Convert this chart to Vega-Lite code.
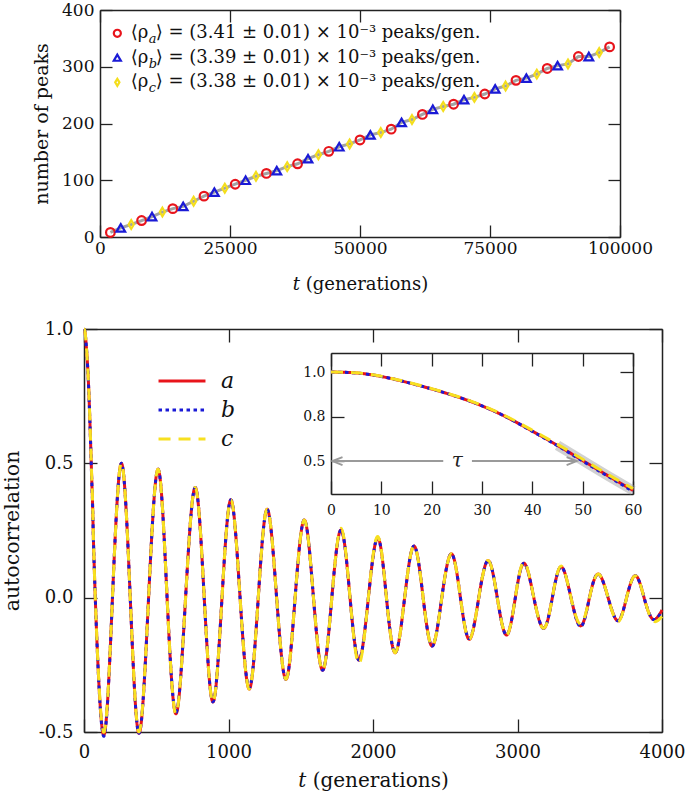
{
  "$schema": "https://vega.github.io/schema/vega-lite/v6.json",
  "width": 685,
  "height": 797,
  "autosize": "none",
  "padding": 0,
  "background": "white",
  "config": {
    "font": "DejaVu Serif",
    "view": {"stroke": null},
    "axis": {"grid": false, "domainColor": "#222", "tickColor": "#222", "labelColor": "#111", "titleColor": "#111", "titleFontWeight": "normal", "domainWidth": 1.5, "tickWidth": 1.3, "labelFlush": false, "labelOverlap": false, "labelFont": "DejaVu Serif", "titleFont": "DejaVu Serif"},
    "legend": {"labelFont": "DejaVu Serif"},
    "text": {"font": "DejaVu Serif"}
  },
  "datasets": {
    "peaks": [
      {"series":"a","t":2000,"n":8},{"series":"a","t":8000,"n":29},{"series":"a","t":14000,"n":50},{"series":"a","t":20000,"n":72},{"series":"a","t":26000,"n":93},{"series":"a","t":32000,"n":112},{"series":"a","t":38000,"n":129},{"series":"a","t":44000,"n":151},{"series":"a","t":50000,"n":171},{"series":"a","t":56000,"n":190},{"series":"a","t":62000,"n":216},{"series":"a","t":68000,"n":234},{"series":"a","t":74000,"n":252},{"series":"a","t":80000,"n":276},{"series":"a","t":86000,"n":297},{"series":"a","t":92000,"n":318},{"series":"a","t":98000,"n":335},
      {"series":"b","t":4000,"n":16},{"series":"b","t":10000,"n":36},{"series":"b","t":16000,"n":54},{"series":"b","t":22000,"n":79},{"series":"b","t":28000,"n":100},{"series":"b","t":34000,"n":117},{"series":"b","t":40000,"n":138},{"series":"b","t":46000,"n":159},{"series":"b","t":52000,"n":180},{"series":"b","t":58000,"n":202},{"series":"b","t":64000,"n":225},{"series":"b","t":70000,"n":242},{"series":"b","t":76000,"n":261},{"series":"b","t":82000,"n":280},{"series":"b","t":88000,"n":302},{"series":"b","t":94000,"n":318},
      {"series":"c","t":6000,"n":22},{"series":"c","t":12000,"n":44},{"series":"c","t":18000,"n":63},{"series":"c","t":24000,"n":86},{"series":"c","t":30000,"n":107},{"series":"c","t":36000,"n":124},{"series":"c","t":42000,"n":145},{"series":"c","t":48000,"n":164},{"series":"c","t":54000,"n":184},{"series":"c","t":60000,"n":207},{"series":"c","t":66000,"n":230},{"series":"c","t":72000,"n":246},{"series":"c","t":78000,"n":266},{"series":"c","t":84000,"n":287},{"series":"c","t":90000,"n":305},{"series":"c","t":96000,"n":325}
    ],
    "acf": [
      {"series":"a","t":0,"v":1.0},{"series":"a","t":5,"v":0.995},{"series":"a","t":10,"v":0.975},{"series":"a","t":15,"v":0.943},{"series":"a","t":20,"v":0.905},{"series":"a","t":25,"v":0.862},{"series":"a","t":30,"v":0.81},{"series":"a","t":35,"v":0.745},{"series":"a","t":40,"v":0.668},{"series":"a","t":45,"v":0.588},{"series":"a","t":50,"v":0.503},{"series":"a","t":55,"v":0.418},{"series":"a","t":60,"v":0.335},
      {"series":"a","t":78,"v":0},{"series":"a","t":135,"v":-0.51},{"series":"a","t":197,"v":0},{"series":"a","t":259,"v":0.5},{"series":"a","t":320,"v":0},{"series":"a","t":381,"v":-0.505},{"series":"a","t":447,"v":0},{"series":"a","t":513,"v":0.478},{"series":"a","t":575,"v":0},{"series":"a","t":637,"v":-0.432},{"series":"a","t":703,"v":0},{"series":"a","t":770,"v":0.41},{"series":"a","t":832,"v":0},{"series":"a","t":893,"v":-0.388},{"series":"a","t":955,"v":0},{"series":"a","t":1017,"v":0.364},{"series":"a","t":1080,"v":0},{"series":"a","t":1144,"v":-0.34},{"series":"a","t":1206,"v":0},{"series":"a","t":1268,"v":0.329},{"series":"a","t":1333,"v":0},{"series":"a","t":1398,"v":-0.304},{"series":"a","t":1461,"v":0},{"series":"a","t":1525,"v":0.289},{"series":"a","t":1588,"v":0},{"series":"a","t":1652,"v":-0.27},{"series":"a","t":1715,"v":0},{"series":"a","t":1779,"v":0.252},{"series":"a","t":1841,"v":0},{"series":"a","t":1903,"v":-0.232},{"series":"a","t":1968,"v":0},{"series":"a","t":2033,"v":0.223},{"series":"a","t":2093,"v":0},{"series":"a","t":2154,"v":-0.205},{"series":"a","t":2219,"v":0},{"series":"a","t":2284,"v":0.192},{"series":"a","t":2347,"v":0},{"series":"a","t":2410,"v":-0.18},{"series":"a","t":2476,"v":0},{"series":"a","t":2543,"v":0.163},{"series":"a","t":2605,"v":0},{"series":"a","t":2667,"v":-0.155},{"series":"a","t":2732,"v":0},{"series":"a","t":2797,"v":0.138},{"series":"a","t":2860,"v":0},{"series":"a","t":2924,"v":-0.139},{"series":"a","t":2985,"v":0},{"series":"a","t":3045,"v":0.128},{"series":"a","t":3113,"v":0},{"series":"a","t":3181,"v":-0.114},{"series":"a","t":3241,"v":0},{"series":"a","t":3302,"v":0.115},{"series":"a","t":3370,"v":0},{"series":"a","t":3438,"v":-0.105},{"series":"a","t":3498,"v":0},{"series":"a","t":3559,"v":0.088},{"series":"a","t":3627,"v":0},{"series":"a","t":3695,"v":-0.086},{"series":"a","t":3755,"v":0},{"series":"a","t":3816,"v":0.082},{"series":"a","t":3876,"v":0},{"series":"a","t":3936,"v":-0.08},{"series":"a","t":4000,"v":-0.046},
      {"series":"b","t":0,"v":1.0},{"series":"b","t":5,"v":0.995},{"series":"b","t":10,"v":0.975},{"series":"b","t":15,"v":0.943},{"series":"b","t":20,"v":0.905},{"series":"b","t":25,"v":0.862},{"series":"b","t":30,"v":0.81},{"series":"b","t":35,"v":0.745},{"series":"b","t":40,"v":0.667},{"series":"b","t":45,"v":0.586},{"series":"b","t":50,"v":0.5},{"series":"b","t":55,"v":0.415},{"series":"b","t":60,"v":0.33},
      {"series":"b","t":78,"v":0},{"series":"b","t":135,"v":-0.515},{"series":"b","t":197,"v":0},{"series":"b","t":259,"v":0.5},{"series":"b","t":320,"v":0},{"series":"b","t":381,"v":-0.505},{"series":"b","t":447,"v":0},{"series":"b","t":513,"v":0.478},{"series":"b","t":575,"v":0},{"series":"b","t":637,"v":-0.428},{"series":"b","t":703,"v":0},{"series":"b","t":770,"v":0.41},{"series":"b","t":832,"v":0},{"series":"b","t":893,"v":-0.388},{"series":"b","t":955,"v":0},{"series":"b","t":1017,"v":0.364},{"series":"b","t":1080,"v":0},{"series":"b","t":1144,"v":-0.335},{"series":"b","t":1206,"v":0},{"series":"b","t":1268,"v":0.329},{"series":"b","t":1333,"v":0},{"series":"b","t":1398,"v":-0.304},{"series":"b","t":1461,"v":0},{"series":"b","t":1525,"v":0.289},{"series":"b","t":1588,"v":0},{"series":"b","t":1652,"v":-0.27},{"series":"b","t":1715,"v":0},{"series":"b","t":1779,"v":0.252},{"series":"b","t":1841,"v":0},{"series":"b","t":1903,"v":-0.232},{"series":"b","t":1968,"v":0},{"series":"b","t":2033,"v":0.223},{"series":"b","t":2093,"v":0},{"series":"b","t":2154,"v":-0.205},{"series":"b","t":2219,"v":0},{"series":"b","t":2284,"v":0.192},{"series":"b","t":2347,"v":0},{"series":"b","t":2410,"v":-0.18},{"series":"b","t":2476,"v":0},{"series":"b","t":2543,"v":0.163},{"series":"b","t":2605,"v":0},{"series":"b","t":2667,"v":-0.152},{"series":"b","t":2732,"v":0},{"series":"b","t":2797,"v":0.138},{"series":"b","t":2860,"v":0},{"series":"b","t":2924,"v":-0.139},{"series":"b","t":2985,"v":0},{"series":"b","t":3045,"v":0.128},{"series":"b","t":3113,"v":0},{"series":"b","t":3181,"v":-0.114},{"series":"b","t":3241,"v":0},{"series":"b","t":3302,"v":0.115},{"series":"b","t":3370,"v":0},{"series":"b","t":3438,"v":-0.108},{"series":"b","t":3498,"v":0},{"series":"b","t":3559,"v":0.088},{"series":"b","t":3627,"v":0},{"series":"b","t":3695,"v":-0.086},{"series":"b","t":3755,"v":0},{"series":"b","t":3816,"v":0.082},{"series":"b","t":3876,"v":0},{"series":"b","t":3936,"v":-0.08},{"series":"b","t":4000,"v":-0.05},
      {"series":"c","t":0,"v":1.0},{"series":"c","t":5,"v":0.996},{"series":"c","t":10,"v":0.976},{"series":"c","t":15,"v":0.945},{"series":"c","t":20,"v":0.907},{"series":"c","t":25,"v":0.864},{"series":"c","t":30,"v":0.813},{"series":"c","t":35,"v":0.749},{"series":"c","t":40,"v":0.673},{"series":"c","t":45,"v":0.594},{"series":"c","t":50,"v":0.51},{"series":"c","t":55,"v":0.425},{"series":"c","t":60,"v":0.345},
      {"series":"c","t":78,"v":0},{"series":"c","t":135,"v":-0.5},{"series":"c","t":197,"v":0},{"series":"c","t":259,"v":0.5},{"series":"c","t":320,"v":0},{"series":"c","t":381,"v":-0.5},{"series":"c","t":447,"v":0},{"series":"c","t":513,"v":0.478},{"series":"c","t":575,"v":0},{"series":"c","t":637,"v":-0.432},{"series":"c","t":703,"v":0},{"series":"c","t":770,"v":0.41},{"series":"c","t":832,"v":0},{"series":"c","t":893,"v":-0.388},{"series":"c","t":955,"v":0},{"series":"c","t":1017,"v":0.364},{"series":"c","t":1080,"v":0},{"series":"c","t":1144,"v":-0.34},{"series":"c","t":1206,"v":0},{"series":"c","t":1268,"v":0.329},{"series":"c","t":1333,"v":0},{"series":"c","t":1398,"v":-0.304},{"series":"c","t":1461,"v":0},{"series":"c","t":1525,"v":0.289},{"series":"c","t":1588,"v":0},{"series":"c","t":1652,"v":-0.27},{"series":"c","t":1715,"v":0},{"series":"c","t":1779,"v":0.258},{"series":"c","t":1841,"v":0},{"series":"c","t":1903,"v":-0.245},{"series":"c","t":1968,"v":0},{"series":"c","t":2033,"v":0.228},{"series":"c","t":2093,"v":0},{"series":"c","t":2154,"v":-0.205},{"series":"c","t":2219,"v":0},{"series":"c","t":2284,"v":0.192},{"series":"c","t":2347,"v":0},{"series":"c","t":2410,"v":-0.18},{"series":"c","t":2476,"v":0},{"series":"c","t":2543,"v":0.163},{"series":"c","t":2605,"v":0},{"series":"c","t":2667,"v":-0.155},{"series":"c","t":2732,"v":0},{"series":"c","t":2797,"v":0.138},{"series":"c","t":2860,"v":0},{"series":"c","t":2924,"v":-0.139},{"series":"c","t":2985,"v":0},{"series":"c","t":3045,"v":0.132},{"series":"c","t":3113,"v":0},{"series":"c","t":3181,"v":-0.114},{"series":"c","t":3241,"v":0},{"series":"c","t":3302,"v":0.118},{"series":"c","t":3370,"v":0},{"series":"c","t":3438,"v":-0.098},{"series":"c","t":3498,"v":0},{"series":"c","t":3559,"v":0.088},{"series":"c","t":3627,"v":0},{"series":"c","t":3695,"v":-0.09},{"series":"c","t":3755,"v":0},{"series":"c","t":3816,"v":0.082},{"series":"c","t":3876,"v":0},{"series":"c","t":3936,"v":-0.085},{"series":"c","t":4000,"v":-0.07}
    ]
  },
  "layer": [
    {
      "layer": [
        {
          "data": {"name": "peaks"},
          "mark": {"type": "line", "color": "#a3a3a3", "strokeWidth": 3},
          "encoding": {
            "x": {"field": "t", "type": "quantitative", "scale": {"domain": [0, 100000], "range": [100, 620], "nice": false, "zero": false},
                  "axis": {"orient": "bottom", "offset": -560, "values": [0, 25000, 50000, 75000, 100000], "format": "d", "title": "𝑡 (generations)", "labelFontSize": 17, "titleFontSize": 18, "tickSize": -12, "labelPadding": 15, "titlePadding": 19}},
            "y": {"field": "n", "type": "quantitative", "scale": {"domain": [0, 400], "range": [237, 10], "nice": false},
                  "axis": {"orient": "left", "offset": -100, "values": [0, 100, 200, 300, 400], "title": "number of peaks", "labelFontSize": 17, "titleFontSize": 19, "tickSize": -12, "labelPadding": 18, "titlePadding": 10}}
          }
        },
        {
          "data": {"name": "peaks"},
          "mark": {"type": "point", "filled": false, "strokeWidth": 2.2, "size": 75, "opacity": 1},
          "encoding": {
            "x": {"field": "t", "type": "quantitative", "axis": {"orient": "top", "offset": -10, "values": [0, 25000, 50000, 75000, 100000], "labels": false, "title": null, "tickSize": -12}},
            "y": {"field": "n", "type": "quantitative", "axis": {"orient": "right", "offset": -65, "values": [0, 100, 200, 300, 400], "labels": false, "title": null, "tickSize": -12}},
            "color": {"field": "series", "type": "nominal", "scale": {"domain": ["a", "b", "c"], "range": ["#e8141b", "#1a1ad6", "#f4de1c"]}, "legend": null},
            "shape": {"field": "series", "type": "nominal", "scale": {"domain": ["a", "b", "c"], "range": ["circle", "triangle-up", "M0,-1L0.6,0L0,1L-0.6,0Z"]}, "legend": null}
          }
        },
        {
          "data": {"values": [{"series": "a", "sub": "a", "post": "⟩ = (3.41 ± 0.01) × 10⁻³  peaks/gen."}]},
          "layer": [
            {"mark": {"type": "point", "filled": false, "strokeWidth": 2.2, "size": 50, "opacity": 1},
             "encoding": {"x": {"datum": 3330, "type": "quantitative", "axis": null}, "y": {"datum": 359, "type": "quantitative", "axis": null},
                          "color": {"field": "series", "type": "nominal", "legend": null}, "shape": {"field": "series", "type": "nominal", "legend": null}}},
            {"mark": {"type": "text", "align": "left", "baseline": "middle", "fontSize": 18, "color": "#111"},
             "encoding": {"x": {"datum": 5900, "type": "quantitative", "axis": null}, "y": {"datum": 359, "type": "quantitative", "axis": null}, "text": {"value": "⟨ρ"}}},
            {"mark": {"type": "text", "align": "left", "baseline": "top", "fontSize": 13, "fontStyle": "italic", "dx": 18, "dy": 0, "color": "#111"},
             "encoding": {"x": {"datum": 5900, "type": "quantitative", "axis": null}, "y": {"datum": 359, "type": "quantitative", "axis": null}, "text": {"field": "sub"}}},
            {"mark": {"type": "text", "align": "left", "baseline": "middle", "fontSize": 18, "dx": 25, "color": "#111"},
             "encoding": {"x": {"datum": 5900, "type": "quantitative", "axis": null}, "y": {"datum": 359, "type": "quantitative", "axis": null}, "text": {"field": "post"}}}
          ]
        },
        {
          "data": {"values": [{"series": "b", "sub": "b", "post": "⟩ = (3.39 ± 0.01) × 10⁻³  peaks/gen."}]},
          "layer": [
            {"mark": {"type": "point", "filled": false, "strokeWidth": 2.2, "size": 50, "opacity": 1},
             "encoding": {"x": {"datum": 3330, "type": "quantitative", "axis": null}, "y": {"datum": 316, "type": "quantitative", "axis": null},
                          "color": {"field": "series", "type": "nominal", "legend": null}, "shape": {"field": "series", "type": "nominal", "legend": null}}},
            {"mark": {"type": "text", "align": "left", "baseline": "middle", "fontSize": 18, "color": "#111"},
             "encoding": {"x": {"datum": 5900, "type": "quantitative", "axis": null}, "y": {"datum": 316, "type": "quantitative", "axis": null}, "text": {"value": "⟨ρ"}}},
            {"mark": {"type": "text", "align": "left", "baseline": "top", "fontSize": 13, "fontStyle": "italic", "dx": 18, "dy": 0, "color": "#111"},
             "encoding": {"x": {"datum": 5900, "type": "quantitative", "axis": null}, "y": {"datum": 316, "type": "quantitative", "axis": null}, "text": {"field": "sub"}}},
            {"mark": {"type": "text", "align": "left", "baseline": "middle", "fontSize": 18, "dx": 25, "color": "#111"},
             "encoding": {"x": {"datum": 5900, "type": "quantitative", "axis": null}, "y": {"datum": 316, "type": "quantitative", "axis": null}, "text": {"field": "post"}}}
          ]
        },
        {
          "data": {"values": [{"series": "c", "sub": "c", "post": "⟩ = (3.38 ± 0.01) × 10⁻³  peaks/gen."}]},
          "layer": [
            {"mark": {"type": "point", "filled": false, "strokeWidth": 2.2, "size": 50, "opacity": 1},
             "encoding": {"x": {"datum": 3330, "type": "quantitative", "axis": null}, "y": {"datum": 272.5, "type": "quantitative", "axis": null},
                          "color": {"field": "series", "type": "nominal", "legend": null}, "shape": {"field": "series", "type": "nominal", "legend": null}}},
            {"mark": {"type": "text", "align": "left", "baseline": "middle", "fontSize": 18, "color": "#111"},
             "encoding": {"x": {"datum": 5900, "type": "quantitative", "axis": null}, "y": {"datum": 272.5, "type": "quantitative", "axis": null}, "text": {"value": "⟨ρ"}}},
            {"mark": {"type": "text", "align": "left", "baseline": "top", "fontSize": 13, "fontStyle": "italic", "dx": 18, "dy": 0, "color": "#111"},
             "encoding": {"x": {"datum": 5900, "type": "quantitative", "axis": null}, "y": {"datum": 272.5, "type": "quantitative", "axis": null}, "text": {"field": "sub"}}},
            {"mark": {"type": "text", "align": "left", "baseline": "middle", "fontSize": 18, "dx": 25, "color": "#111"},
             "encoding": {"x": {"datum": 5900, "type": "quantitative", "axis": null}, "y": {"datum": 272.5, "type": "quantitative", "axis": null}, "text": {"field": "post"}}}
          ]
        }
      ],
      "resolve": {"axis": {"x": "independent", "y": "independent"}}
    },
    {
      "layer": [
        {
          "data": {"name": "acf"},
          "layer": [
            {
              "mark": {"type": "line", "strokeWidth": 3, "interpolate": "natural", "clip": true},
              "encoding": {
                "x": {"field": "t", "type": "quantitative", "scale": {"domain": [0, 4000], "range": [84, 662], "nice": false, "zero": false},
                      "axis": {"orient": "bottom", "offset": -65, "values": [0, 1000, 2000, 3000, 4000], "format": "d", "title": "𝑡 (generations)", "labelFontSize": 18, "titleFontSize": 20, "tickSize": -13, "labelPadding": 24, "titlePadding": 9}},
                "y": {"field": "v", "type": "quantitative", "scale": {"domain": [-0.5, 1.0], "range": [732, 329], "nice": false, "zero": false},
                      "axis": {"orient": "left", "offset": -84, "values": [-0.5, 0, 0.5, 1.0], "format": ".1f", "labelExpr": "replace(datum.label, '−', '-')", "title": "autocorrelation", "labelFontSize": 18, "titleFontSize": 20.5, "tickSize": -13, "labelPadding": 24, "titlePadding": 16}},
                "color": {"field": "series", "type": "nominal", "scale": {"domain": ["a", "b", "c"], "range": ["#e8141b", "#1a1ad6", "#f7e020"]},
                          "legend": {"orient": "none", "legendX": 171, "legendY": 370, "title": null, "symbolType": "M-3,0L3,0", "symbolSize": 245, "symbolStrokeWidth": 3, "labelFontSize": 22, "labelFontStyle": "italic", "labelOffset": 28, "rowPadding": 7, "labelColor": "#111"}},
                "strokeDash": {"field": "series", "type": "nominal", "scale": {"domain": ["a", "b", "c"], "range": [[1, 0], [3.5, 3.5], [12, 8]]},
                          "legend": {"orient": "none", "legendX": 171, "legendY": 370, "title": null, "symbolType": "M-3,0L3,0", "symbolSize": 245, "symbolStrokeWidth": 3, "labelFontSize": 22, "labelFontStyle": "italic", "labelOffset": 28, "rowPadding": 7, "labelColor": "#111"}}
              }
            },
            {
              "mark": {"type": "line", "opacity": 0},
              "encoding": {
                "x": {"field": "t", "type": "quantitative", "axis": {"orient": "top", "offset": -329, "values": [0, 1000, 2000, 3000, 4000], "labels": false, "title": null, "tickSize": -13}},
                "y": {"field": "v", "type": "quantitative", "axis": {"orient": "right", "offset": -23, "values": [-0.5, 0, 0.5, 1.0], "labels": false, "title": null, "tickSize": -13}}
              }
            }
          ],
          "resolve": {"axis": {"x": "independent", "y": "independent"}}
        },
        {
          "data": {"name": "acf"},
          "transform": [{"filter": "datum.t <= 60"}],
          "layer": [
            {
              "transform": [{"filter": "datum.series == 'a' && datum.t >= 45"}],
              "mark": {"type": "line", "color": "#9a9a9a", "opacity": 0.45, "strokeWidth": 10, "interpolate": "natural"},
              "encoding": {
                "x": {"field": "t", "type": "quantitative", "scale": {"domain": [0, 60], "range": [331, 633], "nice": false, "zero": false}, "axis": null},
                "y": {"field": "v", "type": "quantitative", "scale": {"domain": [0.315, 1.107], "range": [494, 353], "nice": false, "zero": false}, "axis": null}
              }
            },
            {
              "mark": {"type": "line", "strokeWidth": 3, "interpolate": "natural"},
              "encoding": {
                "x": {"field": "t", "type": "quantitative",
                      "axis": {"orient": "bottom", "offset": -303, "values": [0, 10, 20, 30, 40, 50, 60], "format": "d", "title": null, "labelFontSize": 14, "tickSize": -13, "labelPadding": 22}},
                "y": {"field": "v", "type": "quantitative",
                      "axis": {"orient": "left", "offset": -331, "values": [0.5, 0.75, 1.0], "format": ".1f", "title": null, "labelFontSize": 14, "tickSize": -13, "labelPadding": 19}},
                "color": {"field": "series", "type": "nominal", "legend": null},
                "strokeDash": {"field": "series", "type": "nominal", "legend": null}
              }
            },
            {
              "mark": {"type": "line", "opacity": 0},
              "encoding": {
                "x": {"field": "t", "type": "quantitative", "axis": {"orient": "top", "offset": -353, "values": [0, 10, 20, 30, 40, 50, 60], "labels": false, "title": null, "tickSize": -13}},
                "y": {"field": "v", "type": "quantitative", "axis": {"orient": "right", "offset": -52, "values": [0.5, 0.75, 1.0], "labels": false, "title": null, "tickSize": -13}}
              }
            },
            {
              "data": {"values": [{"label": "τ"}]},
              "layer": [
                {"mark": {"type": "rule", "color": "#9a9a9a", "strokeWidth": 2},
                 "encoding": {"x": {"datum": 0.3, "type": "quantitative", "axis": null}, "x2": {"datum": 22.3}, "y": {"datum": 0.5, "type": "quantitative", "axis": null}}},
                {"mark": {"type": "rule", "color": "#9a9a9a", "strokeWidth": 2},
                 "encoding": {"x": {"datum": 28, "type": "quantitative", "axis": null}, "x2": {"datum": 48.6}, "y": {"datum": 0.5, "type": "quantitative", "axis": null}}},
                {"mark": {"type": "point", "shape": "M1,-0.4L0,0L1,0.4", "filled": false, "stroke": "#9a9a9a", "strokeWidth": 2, "size": 400, "opacity": 1},
                 "encoding": {"x": {"datum": 0.3, "type": "quantitative", "axis": null}, "y": {"datum": 0.5, "type": "quantitative", "axis": null}}},
                {"mark": {"type": "point", "shape": "M-1,-0.4L0,0L-1,0.4", "filled": false, "stroke": "#9a9a9a", "strokeWidth": 2, "size": 400, "opacity": 1},
                 "encoding": {"x": {"datum": 48.8, "type": "quantitative", "axis": null}, "y": {"datum": 0.5, "type": "quantitative", "axis": null}}},
                {"mark": {"type": "text", "fontSize": 20, "fontStyle": "italic", "baseline": "middle", "align": "center", "color": "#222"},
                 "encoding": {"x": {"datum": 25.1, "type": "quantitative", "axis": null}, "y": {"datum": 0.5, "type": "quantitative", "axis": null}, "text": {"field": "label"}}}
              ]
            }
          ],
          "resolve": {"axis": {"x": "independent", "y": "independent"}}
        }
      ],
      "resolve": {"scale": {"x": "independent", "y": "independent"}, "axis": {"x": "independent", "y": "independent"}}
    }
  ],
  "resolve": {"scale": {"x": "independent", "y": "independent", "color": "independent", "shape": "independent", "strokeDash": "independent"}, "axis": {"x": "independent", "y": "independent"}, "legend": {"color": "independent", "strokeDash": "independent", "shape": "independent"}}
}
